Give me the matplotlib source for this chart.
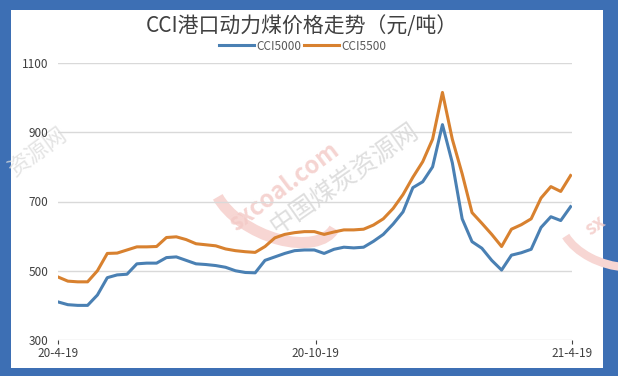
import numpy as np
import pandas as pd
import matplotlib
matplotlib.use('Agg')
import matplotlib.pyplot as plt
from matplotlib.patches import Arc

plt.rcParams['font.family'] = ['Noto Sans CJK SC', 'DejaVu Sans']

# weekly points, 2020-04-19 .. 2021-04-18
dates = pd.date_range('2020-04-19', periods=53, freq='7D')

cci5000 = [410, 402, 400, 400, 430, 480, 488, 490, 520, 522,
           522, 538, 540, 530, 520, 518, 515, 510, 500, 495,
           494, 530, 540, 550, 558, 560, 560, 550, 562, 568,
           566, 568, 585, 605, 635, 670, 740, 757, 800, 922,
           812, 650, 584, 565, 530, 502, 545, 552, 562, 625,
           656, 645, 685]

cci5500 = [482, 470, 468, 468, 500, 550, 551, 560, 569, 569,
           570, 596, 598, 590, 578, 575, 572, 563, 558, 555,
           553, 570, 595, 605, 610, 613, 613, 605, 612, 618,
           618, 620, 632, 650, 680, 720, 770, 815, 880, 1015,
           880, 780, 668, 637, 605, 570, 620, 633, 650, 710,
           743, 729, 775]

yticks = [300, 500, 700, 900, 1100]
xticks = [pd.Timestamp('2020-04-19'), pd.Timestamp('2020-10-19'), pd.Timestamp('2021-04-19')]
xlabels = ['20-4-19', '20-10-19', '21-4-19']

fig = plt.figure(figsize=(6.18, 3.76), dpi=100)
fig.patch.set_facecolor('#3d6fb4')
# white panel inside the blue frame
fig.patches.append(plt.Rectangle((11/618., 1-368/376.), 592/618., 358/376.,
                                 transform=fig.transFigure, facecolor='white',
                                 edgecolor='none', zorder=-2))

ax = fig.add_axes([58/618., 1-340/376., 514/618., 277/376.])
ax.set_facecolor('none')
ax.set_zorder(3)

# watermarks
fig.text(0.461, 0.503, 'sxcoal.com', color='#f3c9c6', fontsize=17, fontweight='bold',
         rotation=37, ha='center', va='center', alpha=0.8, zorder=1)
fig.text(0.558, 0.525, '中国煤炭资源网', color='#d6d6d6', fontsize=18,
         rotation=35, ha='center', va='center', alpha=0.8, zorder=1)
fig.text(0.062, 0.598, '资源网', color='#dedede', fontsize=16,
         rotation=36, ha='center', va='center', alpha=0.8, zorder=1)
fig.text(0.963, 0.40, 'sx', color='#f3c9c6', fontsize=14, fontweight='bold',
         rotation=36, ha='center', va='center', alpha=0.8, zorder=1)
arc = Arc((0.445, 0.47), 0.16, 0.26, angle=36, theta1=140, theta2=285,
          transform=fig.transFigure, color='#f7d6d3', lw=8, zorder=1)
fig.patches.append(arc)
arc2 = Arc((0.99, 0.38), 0.14, 0.20, angle=36, theta1=150, theta2=310,
           transform=fig.transFigure, color='#f7d6d3', lw=6, zorder=1)
fig.patches.append(arc2)

ax.plot(dates, cci5000, color='#4a80b3', lw=2.2, label='CCI5000', zorder=3)
ax.plot(dates, cci5500, color='#d8812f', lw=2.2, label='CCI5500', zorder=3)

ax.set_ylim(300, 1100)
ax.set_xlim(pd.Timestamp('2020-04-19'), pd.Timestamp('2021-04-19'))
ax.set_yticks(yticks)
ax.set_xticks(xticks)
ax.set_xticklabels(xlabels)
ax.grid(axis='y', color='#d9d9d9', lw=1)
ax.set_axisbelow(True)
ax.tick_params(axis='y', length=0, labelsize=8.5, colors='#404040', pad=7)
ax.tick_params(axis='x', length=3, labelsize=8.5, colors='#404040', pad=2)
for s in ax.spines.values():
    s.set_visible(False)

fig.text(0.489, 1-26/376., 'CCI港口动力煤价格走势（元/吨）', ha='center', va='center',
         fontsize=15, color='#404040')
leg = fig.legend(loc='center', bbox_to_anchor=(0.49, 1-46/376.), ncol=2, frameon=False,
                 fontsize=8.5, handlelength=3.0, columnspacing=0.2, handletextpad=0.2,
                 borderaxespad=0.0)
for t in leg.get_texts():
    t.set_color('#595959')

plt.savefig('out.png', dpi=100, facecolor=fig.get_facecolor())
